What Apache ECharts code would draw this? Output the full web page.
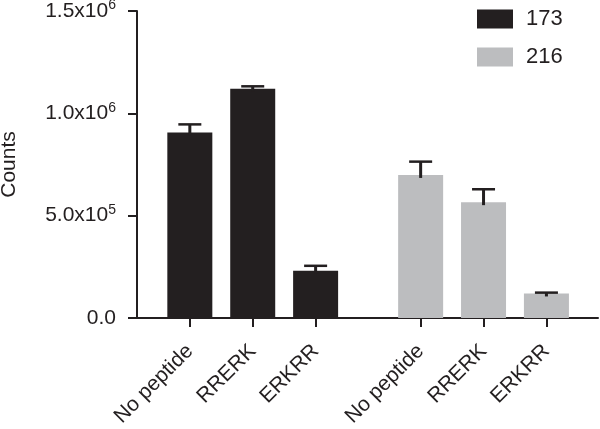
<!DOCTYPE html>
<html>
<head>
<meta charset="utf-8">
<script src="https://cdn.jsdelivr.net/npm/echarts@6/dist/echarts.min.js"></script>
<style>
  html, body { margin: 0; padding: 0; background: #fff; }
  #chart { width: 600px; height: 429px; }
</style>
</head>
<body>
<div id="chart"></div>
<script>
// categories and their x positions (second group shifted right for the gap)
const categories = ["No peptide", "RRERK", "ERKRR", "No peptide", "RRERK", "ERKRR"];
const xPositions = [1, 2, 3, 4.67, 5.67, 6.67];
const seriesNames = ["173", "216"];
const values173 = [906000, 1120000, 231000];
const errors173 = [40000, 12000, 24000];
const values216 = [699000, 566000, 120000];
const errors216 = [65000, 63000, 4000];
const yTicks = [0, 500000, 1000000, 1500000];
const yTickLabels = ["0.0", "5.0x10^5", "1.0x10^6", "1.5x10^6"];

const ink = "#231f20";
const grey = "#bcbdbf";
const fontFamily = "Liberation Sans, Arial, sans-serif";

const chart = echarts.init(document.getElementById("chart"));

const bars173 = values173.map((v, i) => [xPositions[i], v]);
const bars216 = values216.map((v, i) => [xPositions[i + 3], v]);
const errData = values173.map((v, i) => [xPositions[i], v, errors173[i]])
  .concat(values216.map((v, i) => [xPositions[i + 3], v, errors216[i]]));

function yLabel(val) {
  const idx = yTicks.indexOf(val);
  const txt = idx >= 0 ? yTickLabels[idx] : "";
  const parts = txt.split("^");
  if (parts.length === 1) return "{n|" + parts[0] + "}";
  return "{n|" + parts[0] + "}{s|" + parts[1] + "}";
}

function xLabel(val) {
  const idx = xPositions.findIndex(p => Math.abs(p - val) < 0.01);
  return idx >= 0 ? categories[idx] : "";
}

const option = {
  animation: false,
  grid: { left: 137, right: 2, top: 11, bottom: 111, containLabel: false, outerBoundsMode: "none" },
  legend: {
    data: seriesNames,
    orient: "vertical",
    left: 477,
    top: 8,
    padding: 0,
    itemWidth: 36,
    itemHeight: 19,
    itemGap: 16,
    icon: "rect",
    textStyle: { fontSize: 22, color: ink, fontFamily: fontFamily, padding: [0, 0, 0, 8] }
  },
  xAxis: {
    type: "value",
    min: 0.16,
    max: 7.49,
    splitLine: { show: false },
    axisLine: { show: true, onZero: false, lineStyle: { color: ink, width: 2 } },
    axisTick: {
      show: true, length: 9, customValues: xPositions,
      lineStyle: { color: ink, width: 2 }
    },
    axisLabel: {
      customValues: xPositions,
      rotate: 45,
      margin: 30,
      fontSize: 21,
      color: ink,
      fontFamily: fontFamily,
      formatter: xLabel
    }
  },
  yAxis: {
    type: "value",
    min: 0,
    max: 1500000,
    interval: 500000,
    name: "Counts",
    nameLocation: "middle",
    nameGap: 117,
    nameTextStyle: { fontSize: 21, color: ink, fontFamily: fontFamily },
    splitLine: { show: false },
    axisLine: { show: true, onZero: false, lineStyle: { color: ink, width: 2 } },
    axisTick: { show: true, length: 9, lineStyle: { color: ink, width: 2 } },
    axisLabel: {
      margin: 21,
      color: ink,
      formatter: yLabel,
      rich: {
        n: { fontSize: 21, color: ink, fontFamily: fontFamily },
        s: { fontSize: 14, color: ink, fontFamily: fontFamily, verticalAlign: "bottom", padding: [0, 0, 11, 0] }
      }
    }
  },
  series: [
    {
      name: seriesNames[0],
      type: "bar",
      data: bars173,
      barWidth: 45,
      barGap: "-100%",
      itemStyle: { color: ink },
      z: 2
    },
    {
      name: seriesNames[1],
      type: "bar",
      data: bars216,
      barWidth: 45,
      barGap: "-100%",
      itemStyle: { color: grey },
      z: 2
    },
    {
      name: "error",
      type: "custom",
      data: errData,
      z: 3,
      renderItem: function (params, api) {
        const x = api.value(0);
        const base = api.coord([x, api.value(1)]);
        const top = api.coord([x, api.value(1) + api.value(2)]);
        const half = 11.5;
        return {
          type: "group",
          children: [
            {
              type: "line",
              shape: { x1: base[0], y1: base[1] + 3, x2: top[0], y2: top[1] },
              style: { stroke: ink, lineWidth: 3 }
            },
            {
              type: "line",
              shape: { x1: top[0] - half, y1: top[1], x2: top[0] + half, y2: top[1] },
              style: { stroke: ink, lineWidth: 2.5 }
            }
          ]
        };
      }
    }
  ]
};

chart.setOption(option);
</script>
</body>
</html>
